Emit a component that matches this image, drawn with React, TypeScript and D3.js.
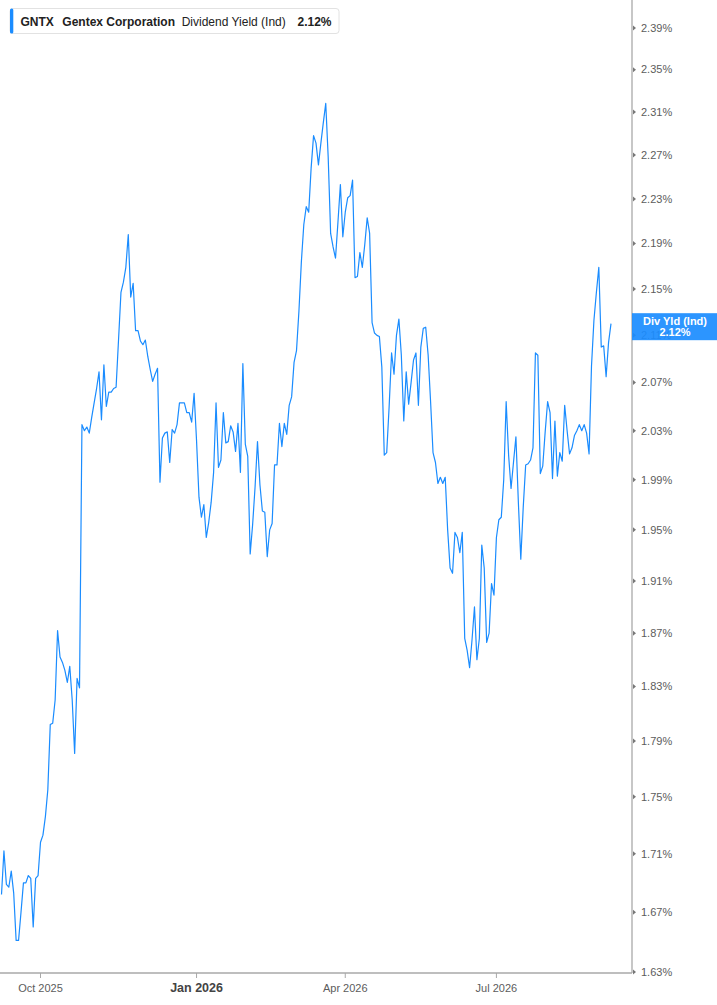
import React from 'react';
import * as d3 from 'd3';

const ticker = 'GNTX';
const company = 'Gentex Corporation';
const metric = 'Dividend Yield (Ind)';
const lastLabel = '2.12%';
const badgeTitle = 'Div Yld (Ind)';

const startDate = '2025-09-09';
const holidays = [
  '2025-11-27', '2025-12-25', '2026-01-01', '2026-01-19', '2026-02-16',
  '2026-04-03', '2026-05-25', '2026-06-19', '2026-07-03', '2026-09-07',
];

const yieldValues = [
  1.682, 1.712, 1.689, 1.687, 1.698, 1.683, 1.651, 1.651, 1.670, 1.690, 1.690, 1.695, 1.693, 1.660, 1.693, 1.695,
  1.718, 1.723, 1.736, 1.755, 1.802, 1.803, 1.820, 1.872, 1.852, 1.848, 1.842, 1.833, 1.845, 1.820, 1.781, 1.836, 1.829,
  2.035, 2.030, 2.033, 2.028, 2.041, 2.053, 2.065, 2.079, 2.039, 2.085, 2.050, 2.062, 2.062, 2.065, 2.066, 2.106,
  2.147, 2.156, 2.169, 2.198, 2.143, 2.155, 2.114, 2.114, 2.105, 2.102, 2.106, 2.092, 2.081, 2.071, 2.077, 2.082,
  1.988, 2.024, 2.028, 2.029, 2.004, 2.031, 2.028, 2.035, 2.053, 2.053, 2.053, 2.045, 2.045, 2.037, 2.061, 2.022,
  1.976, 1.960, 1.970, 1.944, 1.956, 1.972, 1.996, 2.053, 2.000, 2.006, 2.045, 2.020, 2.021, 2.034, 2.029, 2.013,
  2.036, 1.996, 2.086, 2.019, 2.009, 1.931, 1.954, 1.984, 2.021, 1.986, 1.965, 1.964, 1.929, 1.950, 1.955, 2.002,
  2.002, 2.036, 2.017, 2.036, 2.027, 2.051, 2.058, 2.087, 2.097, 2.131, 2.174, 2.207, 2.223, 2.218, 2.258,
  2.288, 2.281, 2.261, 2.281, 2.300, 2.318, 2.268, 2.199, 2.187, 2.177, 2.209, 2.243, 2.196, 2.218, 2.231, 2.233,
  2.247, 2.160, 2.161, 2.182, 2.169, 2.189, 2.213, 2.199, 2.121, 2.112, 2.110, 2.109, 2.083, 2.010, 2.012,
  2.050, 2.095, 2.077, 2.110, 2.124, 2.093, 2.038, 2.079, 2.052, 2.070, 2.089, 2.095, 2.051, 2.100, 2.116, 2.117,
  2.093, 2.054, 2.012, 2.004, 1.987, 1.992, 1.987, 1.992, 1.950, 1.920, 1.916, 1.948, 1.944, 1.932, 1.948,
  1.866, 1.857, 1.844, 1.865, 1.890, 1.850, 1.866, 1.938, 1.920, 1.863, 1.870, 1.908, 1.899, 1.944, 1.958, 1.960,
  1.990, 2.054, 2.010, 1.983, 2.004, 2.025, 1.972, 1.927, 1.968, 2.002, 2.003, 2.006, 2.016,
  2.095, 2.093, 1.995, 2.001, 2.029, 2.054, 2.045, 1.991, 2.038, 1.993, 2.012, 2.005, 2.051, 2.030, 2.011, 2.016,
  2.026, 2.030, 2.035, 2.030, 2.035, 2.028, 2.011, 2.084, 2.123, 2.147, 2.169, 2.100, 2.101, 2.075, 2.104, 2.120,
];

const yTicks = [1.63, 1.67, 1.71, 1.75, 1.79, 1.83, 1.87, 1.91, 1.95, 1.99, 2.03, 2.07, 2.11, 2.15, 2.19, 2.23, 2.27, 2.31, 2.35, 2.39];
const xTickMonths = ['2025-10', '2026-01', '2026-04', '2026-07'];
const xTickLabels = ['Oct 2025', 'Jan 2026', 'Apr 2026', 'Jul 2026'];
const xTickBold = [false, true, false, false];

const fmtDay = d3.utcFormat('%Y-%m-%d');
const fmtMonth = d3.utcFormat('%Y-%m');

function tradingDays(start: string, count: number): Date[] {
  const out: Date[] = [];
  let d = new Date(start + 'T00:00:00Z');
  while (out.length < count) {
    const wd = d.getUTCDay();
    if (wd !== 0 && wd !== 6 && !holidays.includes(fmtDay(d))) out.push(d);
    d = d3.utcDay.offset(d, 1);
  }
  return out;
}

const W = 717;
const H = 1005;
const AXIS_X = 632;
const AXIS_Y = 973;
const LINE_COLOR = '#1a8cff';
const TEXT_COLOR = '#5c5c5c';
const FONT = '"Liberation Sans", Arial, sans-serif';

export default function App() {
  const dates = tradingDays(startDate, yieldValues.length);
  const keys = dates.map(fmtDay);
  const x = d3.scalePoint<string>().domain(keys).range([1.5, 611]).padding(0);
  const y = d3.scaleLog().domain([1.63, 2.39]).range([972, 28]);

  const line = d3
    .line<number>()
    .x((_, i) => x(keys[i]) as number)
    .y((d) => y(d));

  const xTicks = xTickMonths.map((m, i) => {
    const idx = dates.findIndex((d) => fmtMonth(d) === m);
    return { x: x(keys[idx]) as number, label: xTickLabels[i], bold: xTickBold[i] };
  });

  const lastVal = yieldValues[yieldValues.length - 1];
  const badgeY = y(lastVal);

  return (
    <svg
      width={W}
      height={H}
      style={{ position: 'fixed', left: 0, top: 0, display: 'block', background: '#fff' }}
      fontFamily={FONT}
    >
      <rect x={0} y={0} width={W} height={H} fill="#fff" />
      <path d={line(yieldValues) || ''} fill="none" stroke={LINE_COLOR} strokeWidth={1.2} strokeLinejoin="round" />

      {/* right axis */}
      <line x1={AXIS_X} y1={0} x2={AXIS_X} y2={AXIS_Y} stroke="#a9a9a9" strokeWidth={1.3} />
      {yTicks.map((t) => {
        const ty = y(t);
        return (
          <g key={t}>
            <path d={`M${AXIS_X + 1},${ty - 2.5}L${AXIS_X + 4},${ty}L${AXIS_X + 1},${ty + 2.5}Z`} fill="#777" />
            <text x={641} y={ty} dy="0.35em" fontSize={11} fill={TEXT_COLOR}>
              {t.toFixed(2)}%
            </text>
          </g>
        );
      })}

      {/* bottom axis */}
      <line x1={0} y1={AXIS_Y} x2={AXIS_X} y2={AXIS_Y} stroke="#a9a9a9" strokeWidth={1.3} />
      {xTicks.map((t) => (
        <g key={t.label}>
          <line x1={t.x} y1={AXIS_Y} x2={t.x} y2={AXIS_Y + 5} stroke="#a9a9a9" strokeWidth={1} />
          <text
            x={t.x}
            y={992}
            textAnchor="middle"
            fontSize={t.bold ? 12.5 : 11}
            fontWeight={t.bold ? 'bold' : 'normal'}
            fill={t.bold ? '#444' : TEXT_COLOR}
          >
            {t.label}
          </text>
        </g>
      ))}

      {/* last value badge */}
      <g opacity={0.92}>
        <rect x={AXIS_X} y={badgeY - 10.5} width={W - AXIS_X} height={27} fill="#1a8cff" />
      </g>
      <text x={675} y={badgeY - 2.5} dy="0.35em" textAnchor="middle" fontSize={11} fontWeight="bold" fill="#fff">
        {badgeTitle}
      </text>
      <text x={675} y={badgeY + 8.5} dy="0.35em" textAnchor="middle" fontSize={11} fontWeight="bold" fill="#fff">
        {d3.format('.2f')(lastVal)}%
      </text>

      {/* legend */}
      <rect x={10} y={8.5} width={329} height={25} rx={3} fill="#fff" stroke="#e2e2e2" strokeWidth={1} />
      <rect x={10} y={8.5} width={3.3} height={25} rx={1.5} fill={LINE_COLOR} />
      <g fontSize={12} fill="#222">
        <text x={20.5} y={26} fontWeight="bold">{ticker}</text>
        <text x={62.3} y={26} fontWeight="bold">{company}</text>
        <text x={181.7} y={26}>{metric}</text>
        <text x={297.5} y={26} fontWeight="bold">{lastLabel}</text>
      </g>
    </svg>
  );
}
